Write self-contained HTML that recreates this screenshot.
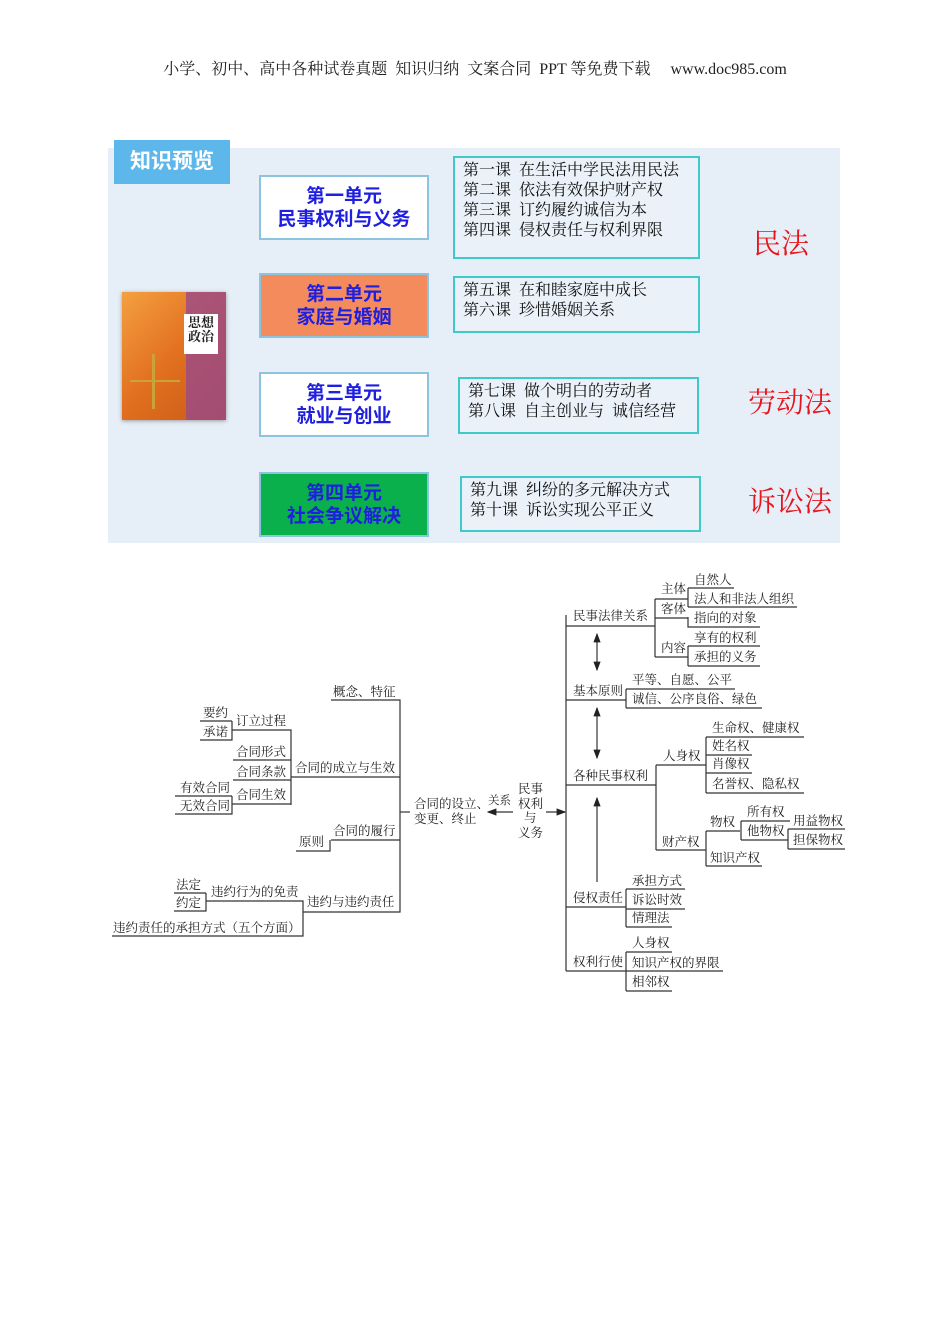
<!DOCTYPE html>
<html><head><meta charset="utf-8">
<style>
html,body{margin:0;padding:0;background:#fff;}
body{width:950px;height:1344px;position:relative;overflow:hidden;font-family:"Liberation Serif","Noto Serif CJK SC",serif;}
.a{position:absolute;}
.hdr{left:0;width:950px;top:56px;text-align:center;font-size:16px;color:#222;white-space:pre;}
.panel{left:108px;top:148px;width:732px;height:395px;background:#e6eef7;}
.title{left:114px;top:140px;width:116px;height:44px;background:#5db7ea;color:#fff;font-family:"Liberation Sans","Noto Sans CJK SC",sans-serif;font-weight:bold;font-size:21px;line-height:44px;text-align:center;}
.unit{left:259px;width:166px;height:61px;border:2px solid #8cc4e0;font-family:"Liberation Sans","Noto Sans CJK SC",sans-serif;font-weight:bold;font-size:19px;line-height:23px;color:#1f1fe0;text-align:center;display:flex;flex-direction:column;justify-content:center;}
.les{border:2px solid #3fc9c9;font-size:16px;line-height:20px;color:#111;padding:3px 0 0 8px;box-sizing:border-box;background:#eaf1f8;white-space:pre;}
.red{color:#e8141c;font-size:28px;}
.book{left:122px;top:292px;width:104px;height:128px;background:linear-gradient(135deg,#f4a040,#e27020 50%,#c85a18);box-shadow:0 1px 4px #999;}
</style></head><body>
<div class="a hdr">小学、初中、高中各种试卷真题  知识归纳  文案合同  PPT 等免费下载     www.doc985.com</div>

<div class="a panel"></div>
<div class="a title">知识预览</div>

<div class="a book">
  <div class="a" style="left:64px;top:0;width:40px;height:128px;background:#9a4a8a;opacity:.8"></div>
  <div class="a" style="left:62px;top:22px;width:34px;height:38px;background:#fff;font-size:13px;line-height:14px;text-align:center;font-weight:bold;color:#222;padding-top:2px">思想<br>政治</div>
  <div class="a" style="left:30px;top:62px;width:3px;height:55px;background:#c9a23a"></div>
  <div class="a" style="left:8px;top:88px;width:50px;height:2px;background:#c9a23a"></div>
</div>

<div class="a unit" style="top:175px;background:#fff;">第一单元<br>民事权利与义务</div>
<div class="a unit" style="top:273px;background:#f38b5c;">第二单元<br>家庭与婚姻</div>
<div class="a unit" style="top:372px;background:#fff;">第三单元<br>就业与创业</div>
<div class="a unit" style="top:472px;background:#0ab04b;">第四单元<br>社会争议解决</div>

<div class="a les" style="left:453px;top:156px;width:247px;height:103px;">第一课  在生活中学民法用民法
第二课  依法有效保护财产权
第三课  订约履约诚信为本
第四课  侵权责任与权利界限</div>
<div class="a les" style="left:453px;top:276px;width:247px;height:57px;">第五课  在和睦家庭中成长
第六课  珍惜婚姻关系</div>
<div class="a les" style="left:458px;top:377px;width:241px;height:57px;">第七课  做个明白的劳动者
第八课  自主创业与  诚信经营</div>
<div class="a les" style="left:460px;top:476px;width:241px;height:56px;">第九课  纠纷的多元解决方式
第十课  诉讼实现公平正义</div>

<div class="a red" style="left:753px;top:222px;">民法</div>
<div class="a red" style="left:748px;top:381px;">劳动法</div>
<div class="a red" style="left:748px;top:480px;">诉讼法</div>

<svg class="a" style="left:0;top:0" width="950" height="1344" xmlns="http://www.w3.org/2000/svg">
<defs><marker id="ar" markerWidth="8" markerHeight="8" refX="7" refY="4" orient="auto-start-reverse"><path d="M0,1 L8,4 L0,7 z" fill="#222"/></marker></defs>
<g fill="none" stroke="#333" stroke-width="1.2">
<path d="M331,700 H400 V912 H303"/>
<path d="M200,721 H232 M200,740 H232 V721 M232,730 H291 V805"/>
<path d="M233,760 H291 M233,780 H291 M291,777 H400"/>
<path d="M175,796 H232 M175,814 H232 V796 M232,804 H291"/>
<path d="M331,840 H400 M296,851 H330 V840"/>
<path d="M174,893 H206 M174,911 H206 V893 M206,901 H303 V936 H112"/>
<path d="M400,812 H410"/>
<path d="M513,812 H488" marker-end="url(#ar)"/>
<path d="M546,812 H565" marker-end="url(#ar)"/>
<path d="M566,615 V971"/>
<path d="M566,626 H655 M566,700 H626 M566,785 H656 M566,907 H626 M566,971 H626"/>
<path d="M655,599 V657 M655,599 H688 M655,618 H688 M655,657 H688"/>
<path d="M688,588 H734 M688,607 H797 M688,588 V607"/>
<path d="M688,617 V627 H760"/>
<path d="M688,646 H760 M688,666 H760 M688,646 V666"/>
<path d="M626,689 H735 M626,708 H762 M626,689 V708"/>
<path d="M656,765 V850 M656,765 H706 M656,850 H706"/>
<path d="M706,737 V793 M706,737 H804 M706,755 H752 M706,773 H752 M706,793 H804"/>
<path d="M706,831 V866 M706,831 H740 M706,866 H762"/>
<path d="M741,821 V840 M741,821 H790 M741,840 H788"/>
<path d="M788,829 V849 M788,829 H845 M788,849 H845"/>
<path d="M626,889 V927 M626,889 H685 M626,909 H685 M626,927 H672"/>
<path d="M626,952 V991 M626,952 H672 M626,971 H723 M626,991 H672"/>
<path d="M597,634 V670" marker-start="url(#ar)" marker-end="url(#ar)"/>
<path d="M597,708 V758" marker-start="url(#ar)" marker-end="url(#ar)"/>
<path d="M597,882 V798" marker-end="url(#ar)"/>
</g>
<g fill="#222" font-size="12.5" font-family="Liberation Serif, Noto Serif CJK SC, serif">
<text x="333" y="696">概念、特征</text>
<text x="203" y="717">要约</text><text x="203" y="736">承诺</text>
<text x="236" y="725">订立过程</text>
<text x="236" y="756">合同形式</text><text x="236" y="776">合同条款</text><text x="236" y="799">合同生效</text>
<text x="295" y="772">合同的成立与生效</text>
<text x="180" y="792">有效合同</text><text x="180" y="810">无效合同</text>
<text x="333" y="835">合同的履行</text><text x="299" y="846">原则</text>
<text x="176" y="889">法定</text><text x="176" y="907">约定</text>
<text x="211" y="896">违约行为的免责</text>
<text x="307" y="906">违约与违约责任</text>
<text x="113" y="932">违约责任的承担方式（五个方面）</text>
<text x="414" y="808">合同的设立、</text><text x="414" y="823">变更、终止</text>
<text x="488" y="804" font-size="11.5">关系</text>
<text x="518" y="793">民事</text><text x="518" y="808">权利</text><text x="524" y="822">与</text><text x="518" y="837">义务</text>
<text x="573" y="620">民事法律关系</text>
<text x="661" y="593">主体</text><text x="661" y="613">客体</text><text x="661" y="652">内容</text>
<text x="694" y="584">自然人</text><text x="694" y="603">法人和非法人组织</text><text x="694" y="622">指向的对象</text>
<text x="694" y="642">享有的权利</text><text x="694" y="661">承担的义务</text>
<text x="573" y="695">基本原则</text>
<text x="632" y="684">平等、自愿、公平</text><text x="632" y="703">诚信、公序良俗、绿色</text>
<text x="573" y="780">各种民事权利</text>
<text x="663" y="760">人身权</text>
<text x="712" y="732">生命权、健康权</text><text x="712" y="750">姓名权</text><text x="712" y="768">肖像权</text><text x="712" y="788">名誉权、隐私权</text>
<text x="662" y="846">财产权</text>
<text x="710" y="826">物权</text><text x="710" y="862">知识产权</text>
<text x="747" y="816">所有权</text><text x="747" y="835">他物权</text>
<text x="793" y="825">用益物权</text><text x="793" y="844">担保物权</text>
<text x="573" y="902">侵权责任</text>
<text x="632" y="885">承担方式</text><text x="632" y="904">诉讼时效</text><text x="632" y="922">情理法</text>
<text x="573" y="966">权利行使</text>
<text x="632" y="947">人身权</text><text x="632" y="967">知识产权的界限</text><text x="632" y="986">相邻权</text>
</g>
</svg>
</body></html>
